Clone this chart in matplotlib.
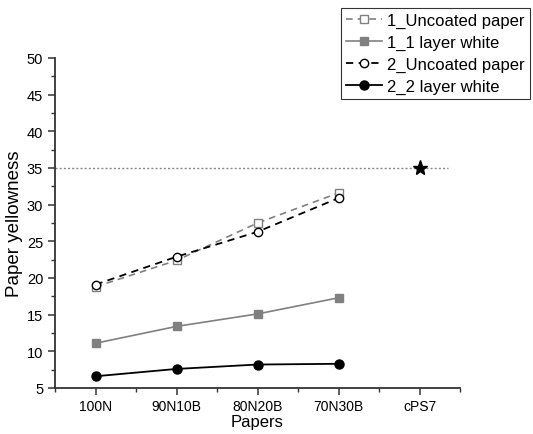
import matplotlib
matplotlib.use("Agg")
import matplotlib.pyplot as plt
from matplotlib.ticker import MultipleLocator

plt.rcParams['font.family'] = ['Liberation Sans', 'DejaVu Sans']

categories = ["100N", "90N10B", "80N20B", "70N30B", "cPS7"]
uncoated_1 = [18.8, 22.4, 27.5, 31.6]
layer_white_1 = [11.1, 13.4, 15.1, 17.3]
uncoated_2 = [19.1, 22.9, 26.3, 30.9]
layer_white_2 = [6.6, 7.6, 8.2, 8.3]
cps7_value = 35.0

fig = plt.figure(figsize=(5.33, 4.35), dpi=100)
ax = fig.add_axes([55/533, 46/435, 405/533, 330/435])

x = list(range(4))
gray = "#808080"
l1, = ax.plot(x, uncoated_1, linestyle=(0, (4, 3)), color=gray, lw=1.2,
              marker='s', ms=5.5, mfc='white', mec=gray, mew=1.0,
              label="1_Uncoated paper")
l2, = ax.plot(x, layer_white_1, linestyle='-', color=gray, lw=1.2,
              marker='s', ms=5.5, mfc=gray, mec=gray,
              label="1_1 layer white")
l3, = ax.plot(x, uncoated_2, linestyle=(0, (4, 3)), color='black', lw=1.3,
              marker='o', ms=6, mfc='white', mec='black', mew=1.0,
              label="2_Uncoated paper")
l4, = ax.plot(x, layer_white_2, linestyle='-', color='black', lw=1.3,
              marker='o', ms=6.5, mfc='black', mec='black',
              label="2_2 layer white")

ax.axhline(cps7_value, xmin=0, xmax=0.97, color='#888888', lw=1.0,
           linestyle=(0, (1.5, 1.5)))
ax.plot([4], [cps7_value], marker='*', ms=11, color='black', linestyle='none')

ax.set_xlim(-0.5, 4.5)
ax.set_ylim(5, 50)
ax.set_xticks(range(len(categories)))
ax.set_xticklabels(categories)
ax.xaxis.set_minor_locator(MultipleLocator(0.5))
ax.yaxis.set_major_locator(MultipleLocator(5))
ax.yaxis.set_minor_locator(MultipleLocator(2.5))

for s in ['top', 'right']:
    ax.spines[s].set_visible(False)
for s in ['left', 'bottom']:
    ax.spines[s].set_linewidth(1.3)
    ax.spines[s].set_color('#333333')

ax.tick_params(which='major', direction='out', length=5, width=1.1,
               color='#333333')
ax.tick_params(axis='x', which='major', labelsize=10, pad=3)
ax.tick_params(axis='y', which='major', labelsize=10.5)
ax.tick_params(which='minor', direction='out', length=3, width=1.0,
               color='#333333')

ax.set_xlabel("Papers", fontsize=12, labelpad=1)
ax.set_ylabel("Paper yellowness", fontsize=13.5, labelpad=3)

leg = fig.legend(handles=[l1, l2, l3, l4], loc='upper right',
                 bbox_to_anchor=(530/533, 1 - 9/435),
                 bbox_transform=fig.transFigure,
                 fontsize=12, frameon=True, fancybox=False,
                 edgecolor='black', handlelength=2.2, handletextpad=0.3,
                 borderpad=0.3, labelspacing=0.4, borderaxespad=0)
leg.get_frame().set_linewidth(0.8)

fig.savefig("out.png", dpi=100)
